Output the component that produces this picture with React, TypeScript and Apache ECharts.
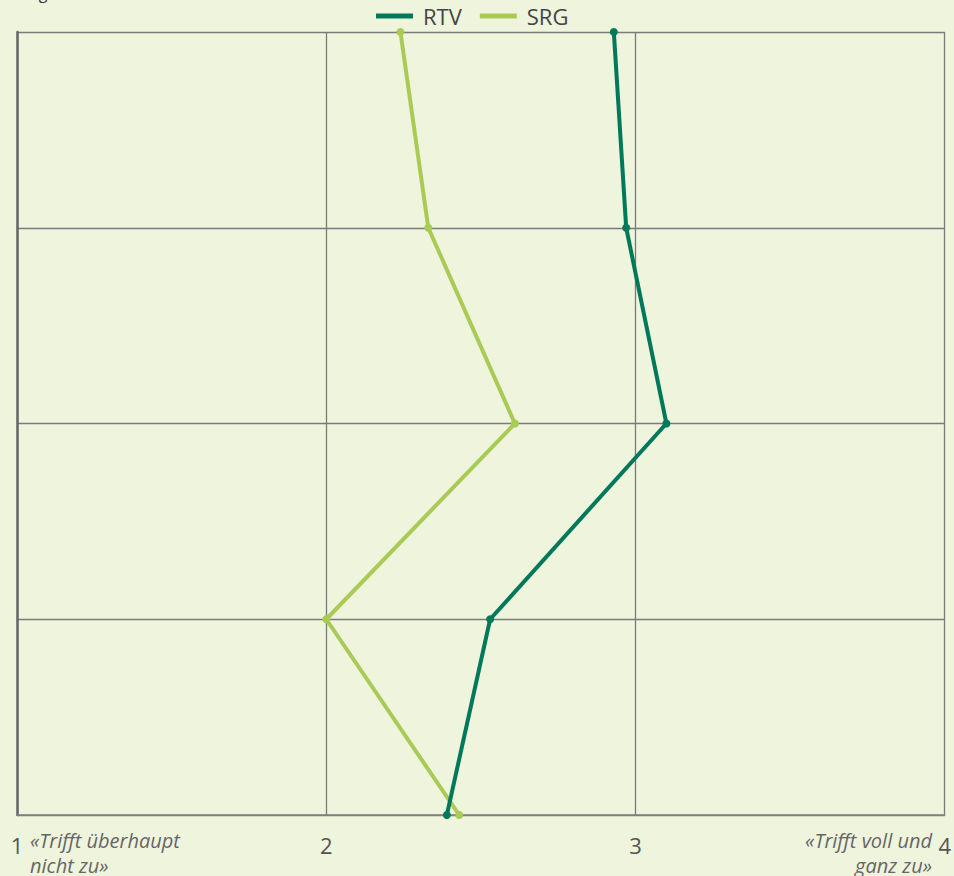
import React, { useEffect, useRef } from "react";
import * as echarts from "echarts";

const categories = ["Aussage 1", "Aussage 2", "Aussage 3", "Aussage 4", "Aussage 5"];
const rtvValues = [2.93, 2.97, 3.1, 2.53, 2.39];
const srgValues = [2.24, 2.33, 2.61, 2.0, 2.43];
const xTicks = [1, 2, 3, 4];
const lowLabel = ["«Trifft überhaupt", "nicht zu»"];
const highLabel = ["«Trifft voll und", "ganz zu»"];
const clippedTitle = "in      gs";

const BG = "#eff4dd";
const RTV_COLOR = "#00795a";
const SRG_COLOR = "#a9cb55";
const FONT = "'Open Sans', 'Noto Sans', sans-serif";

export default function App() {
  const ref = useRef<HTMLDivElement>(null);
  useEffect(() => {
    if (!ref.current) return;
    const chart = echarts.init(ref.current, null, { renderer: "svg" });
    const italic = `italic 20px ${FONT}`;
    chart.setOption({
      animation: false,
      backgroundColor: BG,
      textStyle: { fontFamily: FONT },
      legend: {
        top: 0,
        left: 371,
        itemWidth: 37,
        itemHeight: 5,
        itemGap: 18,
        icon: "rect",
        textStyle: { color: "#444", fontSize: 22, fontFamily: FONT, padding: [0, 0, 0, 5] },
        data: ["RTV", "SRG"],
      },
      grid: { left: 17, right: 9, top: 32, bottom: 61, containLabel: false },
      xAxis: {
        type: "value",
        min: 1,
        max: 4,
        interval: 1,
        axisLine: { show: true, lineStyle: { color: "#808080", width: 1.5 } },
        axisTick: { show: false },
        splitLine: { show: true, lineStyle: { color: "#7a7a7a", width: 1.3 } },
        axisLabel: {
          color: "#555",
          fontSize: 22,
          margin: 19,
          fontFamily: FONT,
          formatter: (v: number) => (xTicks.includes(v) ? String(v) : ""),
        },
      },
      yAxis: {
        type: "category",
        data: categories,
        inverse: true,
        boundaryGap: false,
        axisLine: { show: true, lineStyle: { color: "#666", width: 2.5 } },
        axisTick: { show: false },
        axisLabel: { show: false },
        splitLine: { show: true, lineStyle: { color: "#7a7a7a", width: 1.3 } },
      },
      series: [
        {
          name: "RTV",
          type: "line",
          data: rtvValues,
          color: RTV_COLOR,
          lineStyle: { width: 4, color: RTV_COLOR },
          symbol: "circle",
          symbolSize: 8,
          itemStyle: { color: RTV_COLOR },
          z: 3,
        },
        {
          name: "SRG",
          type: "line",
          data: srgValues,
          color: SRG_COLOR,
          lineStyle: { width: 4, color: SRG_COLOR },
          symbol: "circle",
          symbolSize: 8,
          itemStyle: { color: SRG_COLOR },
          z: 2,
        },
      ],
      graphic: [
        {
          type: "text",
          x: 0,
          y: -15,
          style: { text: clippedTitle, fill: "#333", font: `16px ${FONT}` },
        },
        {
          type: "text",
          x: 30,
          y: 828,
          style: { text: lowLabel[0], fill: "#666", font: italic, lineHeight: 24, align: "left", verticalAlign: "top" },
        },
        {
          type: "text",
          x: 30,
          y: 853,
          style: { text: lowLabel[1], fill: "#666", font: italic, lineHeight: 24, align: "left", verticalAlign: "top" },
        },
        {
          type: "text",
          x: 932,
          y: 828,
          style: { text: highLabel[0], fill: "#666", font: italic, lineHeight: 24, align: "right", verticalAlign: "top" },
        },
        {
          type: "text",
          x: 932,
          y: 853,
          style: { text: highLabel[1], fill: "#666", font: italic, lineHeight: 24, align: "right", verticalAlign: "top" },
        },
      ],
    });
    return () => chart.dispose();
  }, []);
  return (
    <div
      ref={ref}
      style={{ position: "fixed", left: 0, top: 0, width: 954, height: 876 }}
    />
  );
}
